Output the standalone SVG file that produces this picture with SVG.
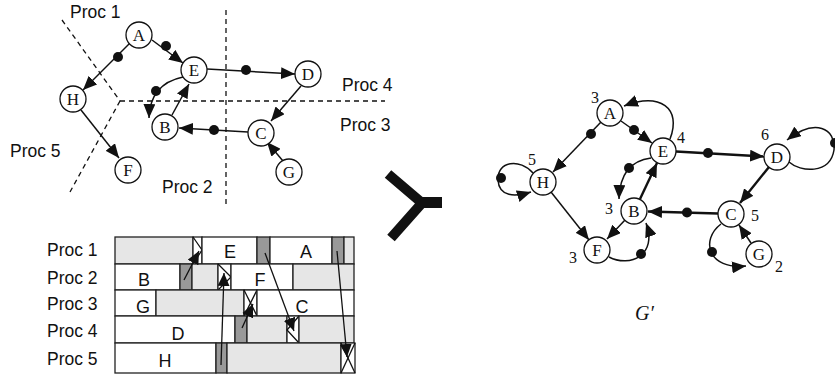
<svg xmlns="http://www.w3.org/2000/svg" width="835" height="376" viewBox="0 0 835 376">
<style>
.nd{fill:#fff;stroke:#111;stroke-width:1.3}
.nt{font-family:"Liberation Serif",serif;font-size:17px;fill:#111;text-anchor:middle}
.wt{font-family:"Liberation Serif",serif;font-size:16px;fill:#111;text-anchor:middle}
.lb{font-family:"Liberation Sans",Arial,sans-serif;font-size:17.5px;fill:#111}
.bx{font-family:"Liberation Sans",Arial,sans-serif;font-size:18px;fill:#111;text-anchor:middle}
.e{fill:none;stroke:#111;stroke-width:1.5;marker-end:url(#ah)}
.et{fill:none;stroke:#111;stroke-width:2.4;marker-end:url(#ah)}
.dot{fill:#111}
.dash{fill:none;stroke:#111;stroke-width:1.3;stroke-dasharray:5,4}
.w{fill:#fff;stroke:#222;stroke-width:1.3}
.l{fill:#e6e6e6;stroke:#222;stroke-width:1.3}
.d{fill:#999;stroke:#222;stroke-width:1.3}
.mk{fill:none;stroke:#111;stroke-width:1.3}
.ta{fill:none;stroke:#111;stroke-width:1.3;marker-end:url(#ahs)}
</style>
<defs>
<marker id="ah" markerUnits="userSpaceOnUse" markerWidth="15" markerHeight="12" refX="14" refY="6" orient="auto">
<path d="M0,0 L14,6 L0,12 z" fill="#111"/>
</marker>
<marker id="ahs" markerUnits="userSpaceOnUse" markerWidth="14" markerHeight="12" refX="13" refY="6" orient="auto">
<path d="M0,0 L13,6 L0,12 z" fill="#111"/>
</marker>
</defs>

<!-- partition lines and labels -->
<g id="partitions">
<line class="dash" x1="226" y1="10" x2="226" y2="205"/>
<line class="dash" x1="120" y1="101" x2="385" y2="101"/>
<line class="dash" x1="62" y1="20" x2="120" y2="101"/>
<line class="dash" x1="120" y1="101" x2="70" y2="192"/>
<text class="lb" x="70" y="18">Proc 1</text>
<text class="lb" x="342" y="91">Proc 4</text>
<text class="lb" x="340" y="131">Proc 3</text>
<text class="lb" x="10" y="157">Proc 5</text>
<text class="lb" x="162" y="193">Proc 2</text>
</g>

<!-- left graph connectors -->
<g id="left-edges">
<line class="e" x1="130" y1="43" x2="83" y2="90"/>
<circle class="dot" cx="118" cy="57" r="5"/>
<line class="e" x1="152" y1="40" x2="183" y2="63"/>
<circle class="dot" cx="166" cy="46" r="5"/>
<line class="e" x1="207" y1="69" x2="295" y2="74"/>
<circle class="dot" cx="246" cy="70" r="5"/>
<line class="e" x1="301" y1="86" x2="271" y2="121"/>
<line class="e" x1="248" y1="132" x2="179" y2="128"/>
<circle class="dot" cx="214" cy="130" r="5"/>
<line class="e" x1="283" y1="161" x2="267" y2="142"/>
<line class="e" x1="172" y1="115" x2="189" y2="84"/>
<path class="e" d="M183,77 Q150,84 149,118"/>
<circle class="dot" cx="156" cy="91" r="5"/>
<line class="e" x1="81" y1="110" x2="119" y2="158"/>
</g>

<!-- left graph nodes -->
<g id="lA"><circle class="nd" cx="139" cy="35" r="13"/><text class="nt" x="139" y="41">A</text></g>
<g id="lE"><circle class="nd" cx="194" cy="70" r="13"/><text class="nt" x="194" y="76">E</text></g>
<g id="lD"><circle class="nd" cx="308" cy="74" r="13"/><text class="nt" x="308" y="80">D</text></g>
<g id="lH"><circle class="nd" cx="73" cy="99" r="13"/><text class="nt" x="73" y="105">H</text></g>
<g id="lB"><circle class="nd" cx="165" cy="127" r="13"/><text class="nt" x="165" y="133">B</text></g>
<g id="lC"><circle class="nd" cx="261" cy="133" r="13"/><text class="nt" x="261" y="139">C</text></g>
<g id="lF"><circle class="nd" cx="128" cy="170" r="13"/><text class="nt" x="128" y="176">F</text></g>
<g id="lG"><circle class="nd" cx="289" cy="172" r="13"/><text class="nt" x="289" y="178">G</text></g>

<!-- schedule chart -->
<g id="schedule">
<text class="lb" x="47" y="256">Proc 1</text>
<text class="lb" x="47" y="284">Proc 2</text>
<text class="lb" x="47" y="310">Proc 3</text>
<text class="lb" x="47" y="337">Proc 4</text>
<text class="lb" x="47" y="365">Proc 5</text>
<!-- row 1 -->
<rect class="l" x="115" y="237" width="78" height="27"/>
<rect class="w" x="193" y="237" width="9" height="27"/>
<polyline class="mk" points="193,237 202,250 193,264"/>
<rect class="w" x="202" y="237" width="55" height="27"/>
<rect class="d" x="257" y="237" width="13" height="27"/>
<rect class="w" x="270" y="237" width="62" height="27"/>
<rect class="d" x="332" y="237" width="12" height="27"/>
<rect class="l" x="344" y="237" width="10" height="27"/>
<text class="bx" x="230" y="258">E</text>
<text class="bx" x="306" y="258">A</text>
<!-- row 2 -->
<rect class="w" x="115" y="264" width="65" height="26"/>
<rect class="d" x="180" y="264" width="12" height="26"/>
<rect class="l" x="192" y="264" width="26" height="26"/>
<rect class="w" x="218" y="264" width="13" height="26"/>
<polyline class="mk" points="218,264 231,277 218,290"/>
<rect class="w" x="231" y="264" width="62" height="26"/>
<rect class="l" x="293" y="264" width="61" height="26"/>
<text class="bx" x="144" y="286">B</text>
<text class="bx" x="260" y="286">F</text>
<!-- row 3 -->
<rect class="w" x="115" y="290" width="41" height="26"/>
<rect class="l" x="156" y="290" width="88" height="26"/>
<rect class="w" x="244" y="290" width="13" height="26"/>
<polyline class="mk" points="244,290 257,316"/>
<polyline class="mk" points="257,290 244,316"/>
<rect class="w" x="257" y="290" width="97" height="26"/>
<text class="bx" x="143" y="313">G</text>
<text class="bx" x="302" y="313">C</text>
<!-- row 4 -->
<rect class="w" x="115" y="316" width="120" height="27"/>
<rect class="d" x="235" y="316" width="12" height="27"/>
<rect class="l" x="247" y="316" width="40" height="27"/>
<rect class="w" x="287" y="316" width="12" height="27"/>
<polyline class="mk" points="299,316 287,330 299,343"/>
<rect class="l" x="299" y="316" width="55" height="27"/>
<text class="bx" x="178" y="340">D</text>
<!-- row 5 -->
<rect class="w" x="115" y="343" width="101" height="30"/>
<rect class="d" x="216" y="343" width="11" height="30"/>
<rect class="l" x="227" y="343" width="114" height="30"/>
<rect class="w" x="341" y="343" width="14" height="30"/>
<polyline class="mk" points="341,343 355,373"/>
<polyline class="mk" points="355,343 341,373"/>
<text class="bx" x="165" y="367">H</text>
</g>

<!-- schedule message arrows -->
<g id="schedule-arrows">
<line class="ta" x1="184" y1="280" x2="199" y2="251"/>
<line class="ta" x1="221" y1="365" x2="224" y2="273"/>
<line class="ta" x1="242" y1="328" x2="253" y2="304"/>
<line class="ta" x1="265" y1="253" x2="294" y2="331"/>
<line class="ta" x1="337" y1="251" x2="347" y2="357"/>
</g>

<!-- transform arrow -->
<g id="transform-arrow">
<polyline points="388,174 422,203 391,238" fill="none" stroke="#111" stroke-width="10"/>
<rect x="418" y="197" width="24" height="11" fill="#111"/>
</g>

<!-- right graph connectors -->
<g id="right-edges">
<line class="e" x1="601" y1="122" x2="553" y2="172"/>
<circle class="dot" cx="591" cy="134" r="5"/>
<line class="e" x1="621" y1="121" x2="652" y2="143"/>
<circle class="dot" cx="634" cy="130" r="5"/>
<path class="e" d="M670,139 C682,108 660,92 624,106"/>
<line class="et" x1="676" y1="151.5" x2="764" y2="156.5"/>
<circle class="dot" cx="708" cy="153" r="5"/>
<path class="e" d="M789,162 C800,172 830,175 834,150 C836,128 815,118 787,140"/>
<circle class="dot" cx="835" cy="143" r="5"/>
<line class="et" x1="769" y1="167" x2="740" y2="203"/>
<line class="et" x1="718" y1="213.5" x2="648" y2="211.5"/>
<circle class="dot" cx="687" cy="212.5" r="5"/>
<line class="et" x1="640" y1="199" x2="657" y2="163"/>
<path class="e" d="M651,158 Q620,162 619,199"/>
<circle class="dot" cx="629" cy="168" r="5"/>
<line class="e" x1="625" y1="220" x2="607" y2="239"/>
<path class="e" d="M609,257 C630,268 658,255 646,223"/>
<circle class="dot" cx="641" cy="254" r="5"/>
<line class="e" x1="551" y1="192" x2="589" y2="240"/>
<path class="e" d="M533,173 C520,158 497,161 498,180 C499,197 515,197 531,192"/>
<circle class="dot" cx="501" cy="178" r="5"/>
<line class="e" x1="751" y1="243" x2="739" y2="225"/>
<path class="e" d="M721,224 C700,240 708,270 746,266"/>
<circle class="dot" cx="712" cy="252" r="5"/>
</g>

<!-- right graph nodes -->
<g id="rA"><circle class="nd" cx="610" cy="113" r="13"/><text class="nt" x="610" y="119">A</text><text class="wt" x="595" y="103">3</text></g>
<g id="rE"><circle class="nd" cx="663" cy="151" r="13"/><text class="nt" x="663" y="157">E</text><text class="wt" x="681" y="143">4</text></g>
<g id="rD"><circle class="nd" cx="777" cy="157" r="13"/><text class="nt" x="777" y="163">D</text><text class="wt" x="765" y="140">6</text></g>
<g id="rH"><circle class="nd" cx="543" cy="182" r="13"/><text class="nt" x="543" y="188">H</text><text class="wt" x="532" y="165">5</text></g>
<g id="rB"><circle class="nd" cx="634" cy="211" r="13"/><text class="nt" x="634" y="217">B</text><text class="wt" x="609" y="214">3</text></g>
<g id="rC"><circle class="nd" cx="731" cy="214" r="13"/><text class="nt" x="731" y="220">C</text><text class="wt" x="755" y="221">5</text></g>
<g id="rF"><circle class="nd" cx="597" cy="250" r="13"/><text class="nt" x="597" y="256">F</text><text class="wt" x="573" y="263">3</text></g>
<g id="rG"><circle class="nd" cx="759" cy="254" r="13"/><text class="nt" x="759" y="260">G</text><text class="wt" x="779" y="272">2</text></g>

<text x="635" y="320" font-family="Liberation Serif,serif" font-style="italic" font-size="20" fill="#111">G′</text>
</svg>
